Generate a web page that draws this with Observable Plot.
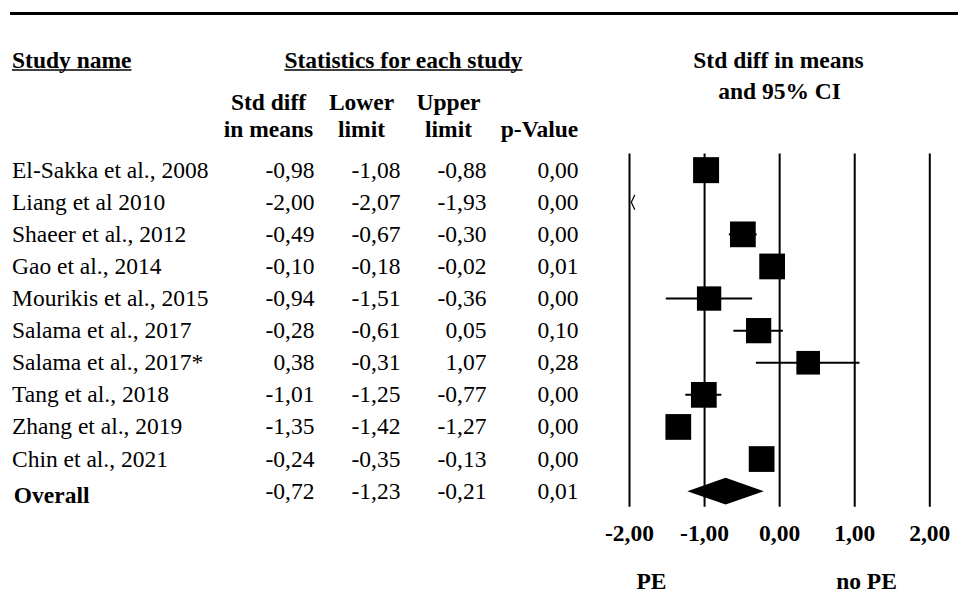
<!DOCTYPE html>
<html>
<head>
<meta charset="utf-8">
<script src="https://cdn.jsdelivr.net/npm/d3@7"></script>
<script src="https://cdn.jsdelivr.net/npm/@observablehq/plot@0.6"></script>
<style>
  html, body { margin: 0; padding: 0; background: #fff; overflow: hidden; }
  #wrap { position: relative; width: 958px; height: 601px; }
  #wrap svg { display: block; }
  #topline { position: absolute; left: 10px; top: 11.6px; width: 948px; height: 3.5px; background: #000; }
</style>
</head>
<body>
<div id="wrap"><div id="topline"></div></div>
<script>
// ---- data ----
const studies = [
  "El-Sakka et al., 2008", "Liang et al 2010", "Shaeer et al., 2012", "Gao et al., 2014",
  "Mourikis et al., 2015", "Salama et al., 2017", "Salama et al., 2017*", "Tang et al., 2018",
  "Zhang et al., 2019", "Chin et al., 2021"
];
const stdDiff    = [-0.98, -2.00, -0.49, -0.10, -0.94, -0.28, 0.38, -1.01, -1.35, -0.24];
const lowerLimit = [-1.08, -2.07, -0.67, -0.18, -1.51, -0.61, -0.31, -1.25, -1.42, -0.35];
const upperLimit = [-0.88, -1.93, -0.30, -0.02, -0.36, 0.05, 1.07, -0.77, -1.27, -0.13];
const pValues    = [0.00, 0.00, 0.00, 0.01, 0.00, 0.10, 0.28, 0.00, 0.00, 0.00];
const weights    = [10.4, 10.4, 10.2, 10.2, 9.1, 9.8, 8.6, 10.2, 10.2, 10.2];
const overallLabel = "Overall";
const overallStats = [-0.72, -1.23, -0.21, 0.01]; // estimate, lower, upper, p
const xTicks = [-2, -1, 0, 1, 2];
const headStudy = "Study name";
const headStats = "Statistics for each study";
const headPlot = ["Std diff in means", "and 95% CI"];
const colHeadTop = ["Std diff", "Lower", "Upper", ""];
const colHeadBottom = ["in means", "limit", "limit", "p-Value"];
const favours = ["PE", "no PE"];

// ---- build ----
const fmt = v => v.toFixed(2).replace(".", ",");
const rows = studies.map((name, i) => ({
  i, name, est: stdDiff[i], lo: lowerLimit[i], hi: upperLimit[i], p: pValues[i], w: weights[i]
}));
const oIdx = rows.length;
const overall = {i: oIdx, name: overallLabel, est: overallStats[0], lo: overallStats[1], hi: overallStats[2], p: overallStats[3]};
const tableRows = [...rows, overall];

const W = 958, H = 601, ML = 629, MR = 28.7, MT = 153.6, MB = 94.3;
const xMin = xTicks[0], xMax = xTicks[xTicks.length - 1];
const FS = 23.5;
const colRight = [314, 400, 486, 578];
const colHeadCenter = [268, 361, 448, 539];
const colAcc = [r => r.est, r => r.lo, r => r.hi, r => r.p];

function head(str, px, baseline, anchor, extra = {}) {
  return Plot.text([str], {
    text: d => d, frameAnchor: "top-left", textAnchor: anchor, lineAnchor: "bottom",
    dx: px - ML, dy: baseline - MT, fontSize: FS, fontWeight: "bold", fill: "black", ...extra
  });
}

// left-pointing chevron marking an interval that runs off the left of the scale
const chevronLeft = {
  draw(ctx, size) {
    const r = Math.sqrt(size / Math.PI);
    ctx.moveTo(r * 0.47, -r); ctx.lineTo(0, 0); ctx.lineTo(r * 0.47, r);
  }
};

const visible = rows.filter(r => r.est > xMin && r.est < xMax);
const offLeft = rows.filter(r => r.lo < xMin);
const h = 0.415;
const diamond = [
  {x: overall.lo, y: oIdx}, {x: overall.est, y: oIdx - h},
  {x: overall.hi, y: oIdx}, {x: overall.est, y: oIdx + h}
];

const marks = [
  Plot.ruleX(xTicks, {x: d => d, stroke: "black", strokeWidth: 2}),
  Plot.ruleY(visible, {y: "i", x1: r => Math.max(r.lo, xMin), x2: r => Math.min(r.hi, xMax), stroke: "black", strokeWidth: 2}),
  Plot.dot(visible, {x: "est", y: "i", r: "w", symbol: "square", fill: "black", stroke: "none"}),
  Plot.dot(offLeft, {x: r => Math.max(r.lo, xMin), y: "i", r: 7.5, symbol: chevronLeft, dx: 1.8,
    fill: "none", stroke: "black", strokeWidth: 1.2}),
  Plot.line(diamond, {x: "x", y: "y", fill: "black", stroke: "none"}),
  // tick labels
  Plot.text(xTicks, {x: d => d, text: d => fmt(d), frameAnchor: "bottom", lineAnchor: "bottom",
    dy: 540 - (H - MB), fontWeight: "bold", fontSize: FS, fill: "black"}),
  // study names
  Plot.text(rows, {y: "i", text: "name", frameAnchor: "left", textAnchor: "start", dx: 11.5 - ML, fontSize: FS, fill: "black"}),
  Plot.text([overall], {y: "i", text: "name", frameAnchor: "left", textAnchor: "start", dx: 13.3 - ML, dy: 4,
    fontWeight: "bold", fontSize: FS, fill: "black"}),
  ...colAcc.map((acc, k) => Plot.text(tableRows, {y: "i", text: r => fmt(acc(r)), frameAnchor: "left",
    textAnchor: "end", dx: colRight[k] - ML, fontSize: FS, fill: "black"})),
  // headers
  head(headStudy, 11.5, 67, "start"),
  head(headStats, 402.8, 67, "middle"),
  head(headPlot[0], 778, 67, "middle"),
  head(headPlot[1], 779, 98, "middle"),
  ...colHeadTop.map((s, k) => head(s, colHeadCenter[k], 109, "middle")),
  ...colHeadBottom.map((s, k) => head(s, colHeadCenter[k], 136, "middle")),
  head(favours[0], 651, 588, "middle"),
  head(favours[1], 866, 588, "middle")
];

const chart = Plot.plot({
  width: W, height: H,
  marginLeft: ML, marginRight: MR, marginTop: MT, marginBottom: MB,
  x: {domain: [xMin, xMax], axis: null},
  y: {domain: [-0.5, oIdx + 0.5], reverse: true, axis: null},
  r: {type: "sqrt", domain: [0, d3.max(weights)], range: [0, 26 / Math.sqrt(Math.PI)]},
  style: {fontFamily: "'Liberation Serif', 'Times New Roman', serif", fontSize: "23.5px", background: "white", color: "black", overflow: "visible"},
  marks
});
document.getElementById("wrap").appendChild(chart);

// underline the two table headings (positions measured from the rendered text)
const svg = d3.select(chart);
const svgBox = chart.getBoundingClientRect();
svg.selectAll("text")
  .filter(function () { return this.textContent === headStudy || this.textContent === headStats; })
  .each(function () {
    const b = this.getBoundingClientRect();
    const x0 = b.left - svgBox.left, x1 = b.right - svgBox.left;
    const y = (b.top - svgBox.top) + b.height * 0.805 + 2.6;
    svg.append("line")
      .attr("x1", x0).attr("x2", x1)
      .attr("y1", y).attr("y2", y)
      .attr("stroke", "black").attr("stroke-width", 1.5);
  });
</script>
</body>
</html>
